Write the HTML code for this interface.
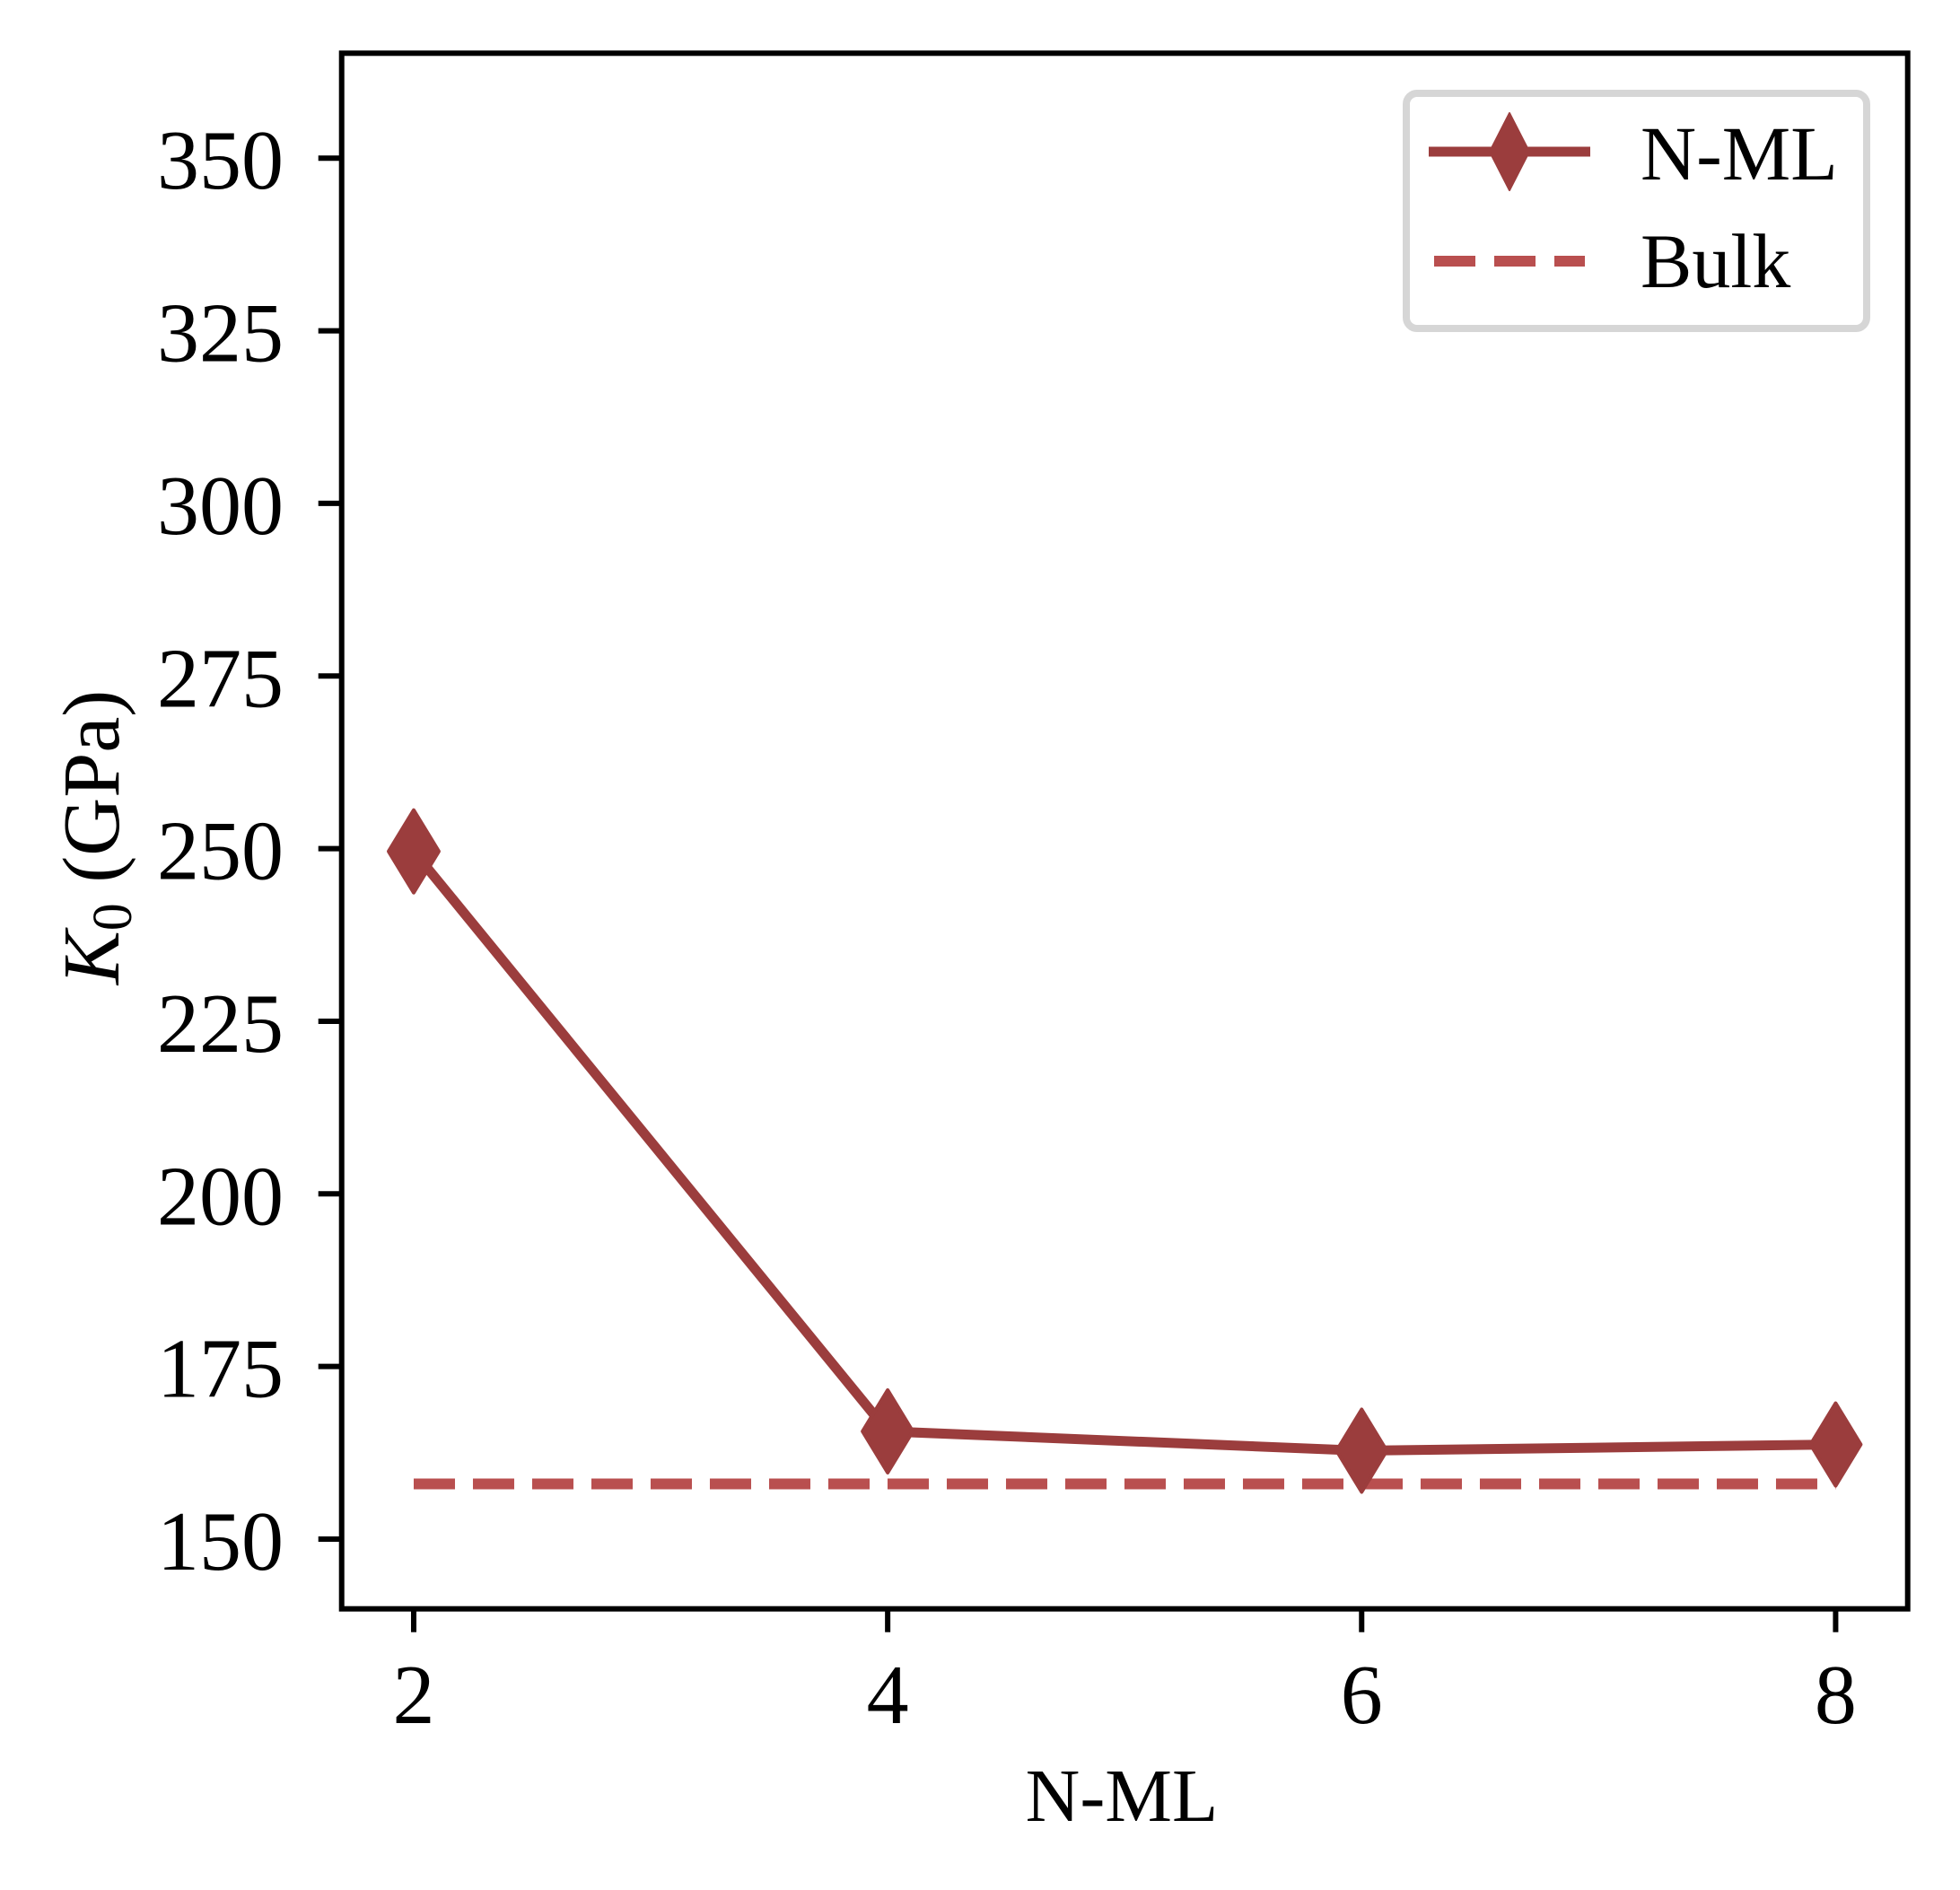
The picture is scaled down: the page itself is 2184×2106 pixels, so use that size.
<!DOCTYPE html>
<html><head><meta charset="utf-8"><style>
html,body{margin:0;padding:0;background:#fff;}
svg{display:block;font-family:"Liberation Serif",serif;}
</style></head><body>
<svg id="chart" width="2184" height="2106" viewBox="0 0 2184 2106" xmlns="http://www.w3.org/2000/svg">
<rect width="2184" height="2106" fill="#fff"/>
<g id="bulk"></g>
<g id="series"></g>
<g id="axes"></g>
<text x="1250" y="2029" font-size="84" text-anchor="middle">N-ML</text>
<text transform="translate(132,933) rotate(-90)" font-size="90" text-anchor="middle"><tspan font-style="italic">K</tspan><tspan font-size="62" dy="14">0</tspan><tspan dy="-14"> (GPa)</tspan></text>
<g>
<rect x="1567" y="104" width="513" height="262" rx="12" fill="#fff" stroke="#d6d6d6" stroke-width="8"/>
<g>
<line x1="1592" y1="169" x2="1772" y2="169" stroke="#9b3d3d" stroke-width="11"/>
<polygon points="1682,126 1704,169 1682,212 1660,169" fill="#9b3d3d" stroke="#9b3d3d" stroke-width="2" stroke-linejoin="round"/>
<text x="1828" y="200" font-size="86">N-ML</text>
</g>
<g>
<line x1="1598" y1="291" x2="1766" y2="291" stroke="#b94f4f" stroke-width="12" stroke-dasharray="46 21"/>
<text x="1828" y="320" font-size="86">Bulk</text>
</g>
</g>
</svg>
<script>
const categories = [2, 4, 6, 8];
const nmlValues = [249.6, 165.6, 162.8, 163.7];
const bulkValue = [158.0];
const yTicks = [150, 175, 200, 225, 250, 275, 300, 325, 350];
const xTicks = [2, 4, 6, 8];

const L = 380.7, R = 2125.7, T = 59.3, B = 1792.7;
const X0 = 1.696, X1 = 8.304, Y0 = 139.9, Y1 = 365.2;
const NS = 'http://www.w3.org/2000/svg';
function sx(v){ return L + (v - X0) / (X1 - X0) * (R - L); }
function sy(v){ return B - (v - Y0) / (Y1 - Y0) * (B - T); }
function mk(tag, attrs, parent){
  const e = document.createElementNS(NS, tag);
  for (const k in attrs) e.setAttribute(k, attrs[k]);
  parent.appendChild(e);
  return e;
}
const axes = document.getElementById('axes');
const series = document.getElementById('series');
const bulk = document.getElementById('bulk');

const bl = mk('line', {x1: sx(categories[0]), x2: sx(categories[categories.length-1]), y1: sy(bulkValue[0]), y2: sy(bulkValue[0]), stroke: '#b94f4f', 'stroke-width': 12, 'stroke-dasharray': '46 20'}, bulk);



const pts = categories.map((c, i) => sx(c) + ',' + sy(nmlValues[i])).join(' ');
const pl = mk('polyline', {points: pts, fill: 'none', stroke: '#9b3d3d', 'stroke-width': 11, 'stroke-linejoin': 'round'}, series);


categories.forEach((c, i) => {
  const x = sx(c), y = sy(nmlValues[i]);
  const p = mk('polygon', {points: `${x},${y-46} ${x+28},${y} ${x},${y+46} ${x-28},${y}`, fill: '#9b3d3d', stroke: '#9b3d3d', 'stroke-width': 4, 'stroke-linejoin': 'round'}, series);
  
  
});

const fr = mk('rect', {x: L, y: T, width: R - L, height: B - T, fill: 'none', stroke: '#000', 'stroke-width': 6}, axes);



yTicks.forEach(v => {
  const y = sy(v);
  const t = mk('line', {x1: L - 26, x2: L, y1: y, y2: y, stroke: '#000', 'stroke-width': 6}, axes);
  
  
  const tx = mk('text', {x: 316, y: y + 34, 'font-size': 94, 'text-anchor': 'end'}, axes);
  tx.textContent = v;
  
  
});
xTicks.forEach(v => {
  const x = sx(v);
  const t = mk('line', {x1: x, x2: x, y1: B, y2: B + 26, stroke: '#000', 'stroke-width': 6}, axes);
  
  
  const tx = mk('text', {x: x, y: 1920, 'font-size': 94, 'text-anchor': 'middle'}, axes);
  tx.textContent = v;
  
  
});
</script>
</body></html>
